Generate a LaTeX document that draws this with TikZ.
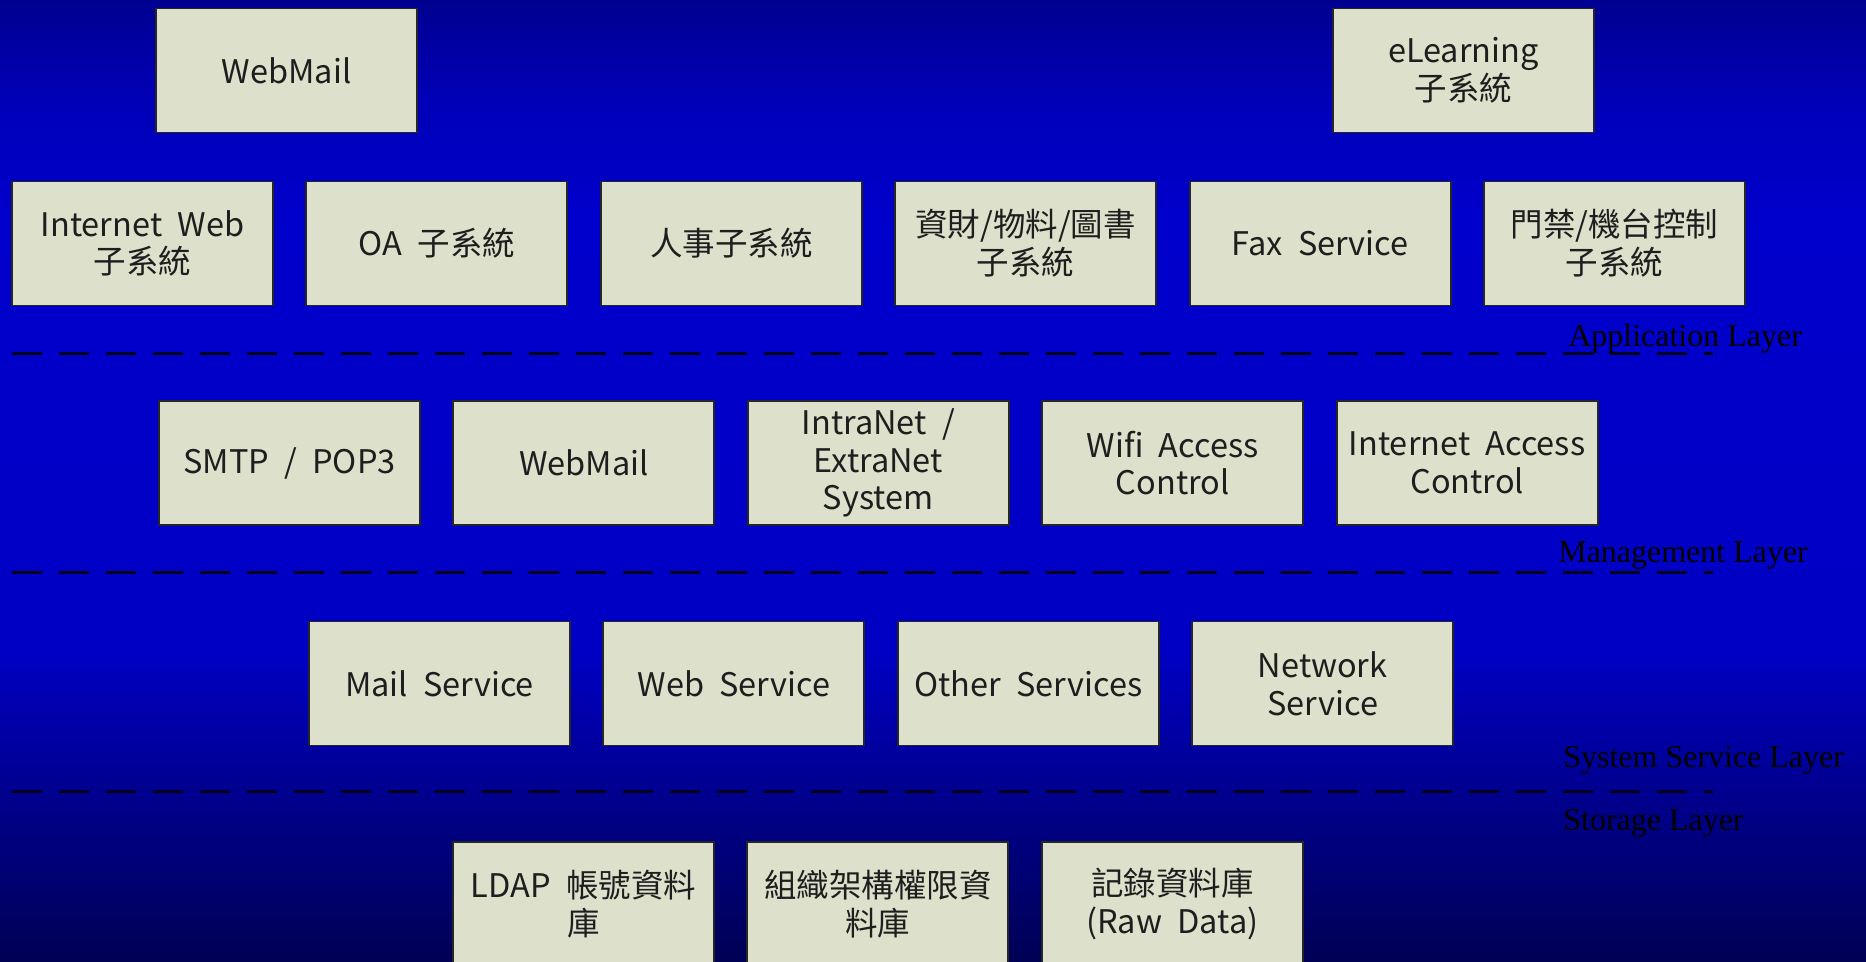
\documentclass[tikz,border=0pt]{standalone}
\usepackage{fontspec}
\setmainfont{Noto Sans CJK TC}[WordSpace=2.1]
\newfontfamily\layerfont{Liberation Serif}
\usepackage{tikz}

\definecolor{boxfill}{RGB}{221,225,203}
\definecolor{boxtext}{RGB}{30,30,30}
\definecolor{bgtop}{RGB}{0,0,144}
\definecolor{bghigh}{RGB}{0,0,184}
\definecolor{bgmid}{RGB}{0,0,204}
\definecolor{bglow}{RGB}{0,0,196}
\definecolor{bgdark}{RGB}{0,0,140}
\definecolor{bgbot}{RGB}{0,0,85}
\definecolor{sepline}{RGB}{0,0,30}

% 25bp = bottom edge, 75bp = top edge
\pgfdeclareverticalshading{slidebg}{100bp}{color(0bp)=(bgbot); color(25bp)=(bgbot);
  color(33.4bp)=(bgdark); color(41.2bp)=(bglow); color(63.6bp)=(bgmid);
  color(69.8bp)=(bghigh); color(75bp)=(bgtop); color(100bp)=(bgtop)}

\begin{document}
\begin{tikzpicture}[x=0.02cm,y=-0.02cm,
    box/.style={draw=black!85, line width=1.1pt, fill=boxfill, text=boxtext,
      minimum width=5.22cm, minimum height=2.48cm, inner sep=2pt, align=center,
      font=\fontsize{18.5}{21.5}\selectfont},
    layer/.style={anchor=west, inner sep=0pt, text=black,
      font=\layerfont\fontsize{18.2}{20}\selectfont},
    sepline/.style={draw=sepline, line width=1.7pt, dash pattern=on 0.6cm off 0.34cm}]
    \def \pitch {294.4}
    \def \half {130.5}
    \useasboundingbox (0,0) rectangle (1866,961);
    \shade[shading=slidebg] (0,0) rectangle (1866,961);

    % top row
    \node[box] (webmail) at (286.5,70.5) {WebMail};
    \node[box] (elearn) at (1463.5,70.5) {eLearning\\子系統};

    % application layer
    \foreach \s/\t in {1/{Internet Web\\子系統}, 2/{OA 子系統}, 3/{人事子系統},
        4/{資財/物料/圖書\\子系統}, 5/{Fax Service}, 6/{門禁/機台控制\\子系統}}
      \node[box] (app\s) at ({12+\half+\pitch*(\s-1)},243.5) {\t};

    % management layer
    \foreach \s/\t in {1/{SMTP / POP3}, 2/{WebMail}, 3/{IntraNet /\\ExtraNet\\System},
        4/{Wifi Access\\Control}, 5/{Internet Access\\Control}}
      \node[box] (mgmt\s) at ({159+\half+\pitch*(\s-1)},463) {\t};

    % system service layer
    \foreach \s/\t in {1/{Mail Service}, 2/{Web Service}, 3/{Other Services},
        4/{Network\\Service}}
      \node[box] (svc\s) at ({309+\half+\pitch*(\s-1)},683.5) {\t};

    % storage layer
    \foreach \s/\t in {1/{LDAP 帳號資料\\庫}, 2/{組織架構權限資\\料庫},
        3/{記錄資料庫\\(Raw Data)}}
      \node[box] (store\s) at ({453+\half+\pitch*(\s-1)},904) {\t};

    % layer separators
    \foreach \y in {353,572,791}
      \draw[sepline] (12,\y) -- (1713,\y);

    \node[layer] (applbl) at (1568,339) {Application Layer};
    \node[layer] (mgmtlbl) at (1558,555) {Management Layer};
    \node[layer] (svclbl) at (1563,760) {System Service Layer};
    \node[layer] (storelbl) at (1563,823) {Storage Layer};
\end{tikzpicture}
\end{document}
